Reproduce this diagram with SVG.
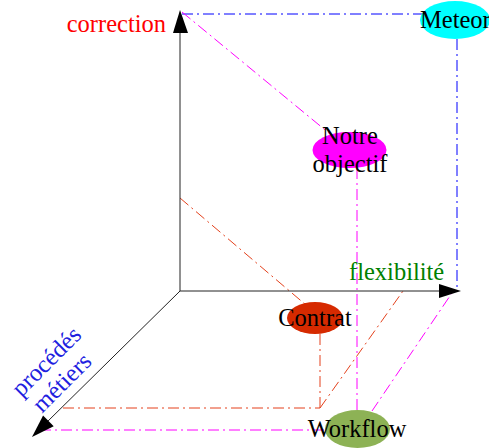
<svg xmlns="http://www.w3.org/2000/svg" width="489" height="448" viewBox="0 0 489 448">
<style>
.axis{stroke:#222;stroke-width:1;fill:none}
.head{fill:#000}
.dd{fill:none;stroke-width:1;stroke-dasharray:11,4,2,4}
.blue{stroke:#0000ff}
.mag{stroke:#ff00ff}
.red{stroke:#e4411c}
text{font-family:"Liberation Serif","Times New Roman",serif;font-size:24.5px}
.lbl{text-anchor:middle;fill:#000}
</style>
<rect width="489" height="448" fill="#fff"/>
<g id="connectors">
<line class="dd blue" x1="182" y1="14" x2="425" y2="14"/>
<line class="dd blue" x1="457" y1="39" x2="457" y2="291"/>
<line class="dd mag" x1="182" y1="12" x2="330" y2="134"/>
<line class="dd mag" x1="357" y1="168" x2="357" y2="411"/>
<line class="dd mag" x1="40" y1="430" x2="326" y2="430"/>
<line class="dd mag" x1="372" y1="411" x2="454" y2="290"/>
<line class="dd red" x1="180" y1="198" x2="306" y2="305"/>
<line class="dd red" x1="320" y1="334" x2="320" y2="408"/>
<line class="dd red" x1="63" y1="408" x2="320" y2="408"/>
<line class="dd red" x1="320" y1="408" x2="403" y2="291"/>
</g>
<g id="axes">
<line class="axis" x1="180" y1="291" x2="180" y2="30"/>
<polygon class="head" points="180,10 173,33 188,33"/>
<line class="axis" x1="180" y1="291" x2="442" y2="291"/>
<polygon class="head" points="461,291 439,284 439,298"/>
<line class="axis" x1="180" y1="291" x2="46" y2="423"/>
<polygon class="head" points="32,437 53.7,426.2 43.1,415.6"/>
</g>
<g id="axis-labels">
<text x="166" y="32" fill="#ff0000" text-anchor="end">correction</text>
<text x="349" y="280" fill="#008000">flexibilité</text>
<g transform="translate(52,367) rotate(-45)" fill="#2020e0">
<text x="0" y="0" text-anchor="middle">procédés</text>
<text x="-4" y="26" text-anchor="middle">métiers</text>
</g>
</g>
<g id="meteor">
<ellipse cx="455" cy="20" rx="35" ry="19" fill="#00ffff"/>
<text x="420" y="28" fill="#000">Meteor</text>
</g>
<g id="notre-objectif">
<ellipse cx="349.5" cy="150" rx="37" ry="18" fill="#ff00ff"/>
<text class="lbl" x="350" y="144">Notre</text>
<text class="lbl" x="350" y="172">objectif</text>
</g>
<g id="contrat">
<ellipse cx="315" cy="318" rx="28" ry="16" fill="#d62a00"/>
<text class="lbl" x="315" y="326">Contrat</text>
</g>
<g id="workflow">
<ellipse cx="357.5" cy="429" rx="32.5" ry="19" fill="#8db255"/>
<text class="lbl" x="357" y="437">Workflow</text>
</g>
</svg>
